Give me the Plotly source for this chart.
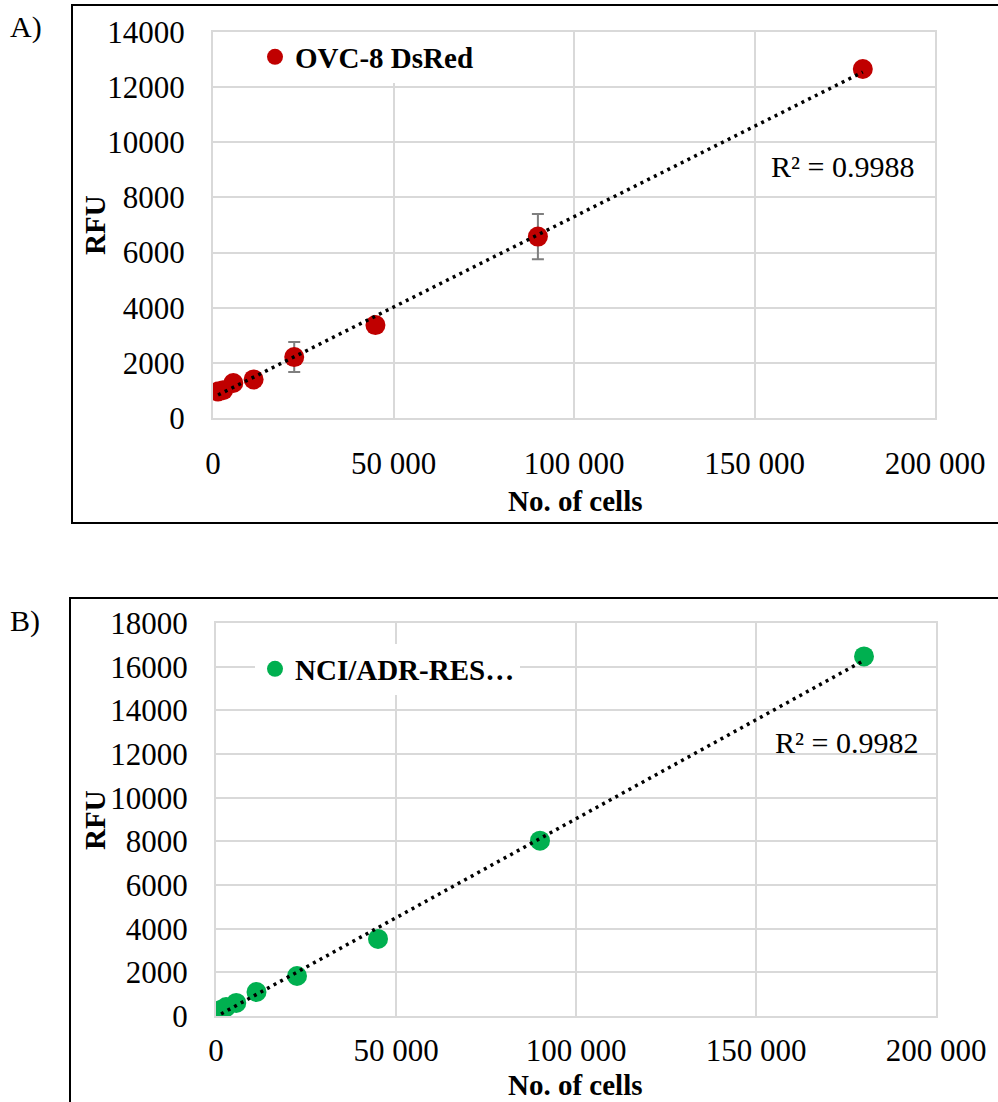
import numpy as np
import plotly.graph_objects as go

W, H = 998, 1102

# ---- data -------------------------------------------------------------
cells = [1406, 2812, 5625, 11250, 22500, 45000, 90000, 180000]

ovc8_name = "OVC-8 DsRed"
ovc8_rfu = [960, 1010, 1270, 1400, 2210, 3370, 6580, 12660]
ovc8_err = [60, 60, 80, 120, 545, 150, 820, 120]
ovc8_r2 = "R² = 0.9988"

nci_name = "NCI/ADR-RES…"
nci_rfu = [280, 410, 600, 1100, 1830, 3530, 8030, 16470]
nci_r2 = "R² = 0.9982"

x_tickvals = [0, 50000, 100000, 150000, 200000]
x_ticktext = ["0", "50 000", "100 000", "150 000", "200 000"]

RED = "#C00000"
GREEN = "#00B050"
GRID = "#D9D9D9"
FONT = "Liberation Serif, Times New Roman, serif"


def px(x):
    return x / W


def py(y):
    return 1 - y / H


fig = go.Figure()


def add_panel(n, x, y, name, color, err, legend_name):
    xa = "x" if n == 1 else f"x{n}"
    ya = "y" if n == 1 else f"y{n}"
    tr = dict(
        x=x, y=y, mode="markers", name=name,
        marker=dict(size=20, color=color),
        xaxis=xa, yaxis=ya, legend=legend_name, showlegend=True,
    )
    if err is not None:
        tr["error_y"] = dict(type="data", array=err, visible=True,
                             color="#7F7F7F", thickness=2, width=6)
    fig.add_trace(go.Scatter(**tr))
    # linear trendline fitted to the points
    slope, icpt = np.polyfit(np.array(x, float), np.array(y, float), 1)
    xs = np.array([min(x), max(x)], float)
    fig.add_trace(go.Scatter(
        x=xs, y=slope * xs + icpt, mode="lines",
        line=dict(color="black", width=3.5, dash="3px,4.5px"),
        xaxis=xa, yaxis=ya, showlegend=False, hoverinfo="skip",
    ))


add_panel(1, cells, ovc8_rfu, ovc8_name, RED, ovc8_err, "legend")
add_panel(2, cells, nci_rfu, nci_name, GREEN, None, "legend2")

tickfont = dict(family=FONT, size=31, color="black")

xcommon = dict(
    range=[0, 200000], tickvals=x_tickvals, ticktext=x_ticktext,
    showgrid=True, gridcolor=GRID, gridwidth=2,
    showline=True, linecolor=GRID, linewidth=2, mirror=True,
    zeroline=False, ticks="", tickfont=tickfont,
    automargin=False, fixedrange=True,
)
ycommon = dict(
    showgrid=True, gridcolor=GRID, gridwidth=2,
    showline=True, linecolor=GRID, linewidth=2, mirror=True,
    zeroline=False, ticks="", tickfont=tickfont, ticklabelstandoff=20,
    tickformat="d", dtick=2000,
    automargin=False, fixedrange=True,
)

legend_common = dict(
    bgcolor="white", borderwidth=0,
    font=dict(family=FONT, size=29, color="black", weight="bold"),
    xanchor="left", yanchor="middle", itemwidth=30,
    tracegroupgap=0,
)

fig.update_layout(
    width=W, height=H,
    margin=dict(l=0, r=0, t=0, b=0),
    paper_bgcolor="white", plot_bgcolor="white",
    font=dict(family=FONT, color="black"),
    xaxis=dict(domain=[px(213), px(935)], anchor="y",
               ticklabelstandoff=17, **xcommon),
    yaxis=dict(domain=[py(418), py(32)], anchor="x", range=[0, 14000],
               **ycommon),
    xaxis2=dict(domain=[px(216), px(936)], anchor="y2",
                ticklabelstandoff=6, **xcommon),
    yaxis2=dict(domain=[py(1016), py(623)], anchor="x2", range=[0, 18000],
                **ycommon),
    legend=dict(x=px(255), y=py(57), **legend_common),
    legend2=dict(x=px(255), y=py(669), **legend_common),
)

# outer frames of the two panels
fig.add_shape(type="rect", xref="paper", yref="paper",
              x0=px(72), x1=px(1010), y0=py(523), y1=py(5),
              line=dict(color="black", width=2), layer="below")
fig.add_shape(type="rect", xref="paper", yref="paper",
              x0=px(70), x1=px(1010), y0=py(1120), y1=py(598),
              line=dict(color="black", width=2), layer="below")


def text(x, y, s, size=30, bold=False, angle=0):
    fig.add_annotation(
        x=px(x), y=py(y), xref="paper", yref="paper", text=s,
        showarrow=False, textangle=angle, xanchor="center", yanchor="middle",
        font=dict(family=FONT, size=size, color="black",
                  weight="bold" if bold else "normal"),
    )


text(26, 27, "A)")
text(25, 621, "B)")
text(95, 225, "RFU", size=29, bold=True, angle=-90)
text(95, 820, "RFU", size=29, bold=True, angle=-90)
text(575, 501, "No. of cells", size=29, bold=True)
text(575, 1085, "No. of cells", size=29, bold=True)
text(842, 166, ovc8_r2)
text(846, 742, nci_r2)

fig.write_html("out.html")
